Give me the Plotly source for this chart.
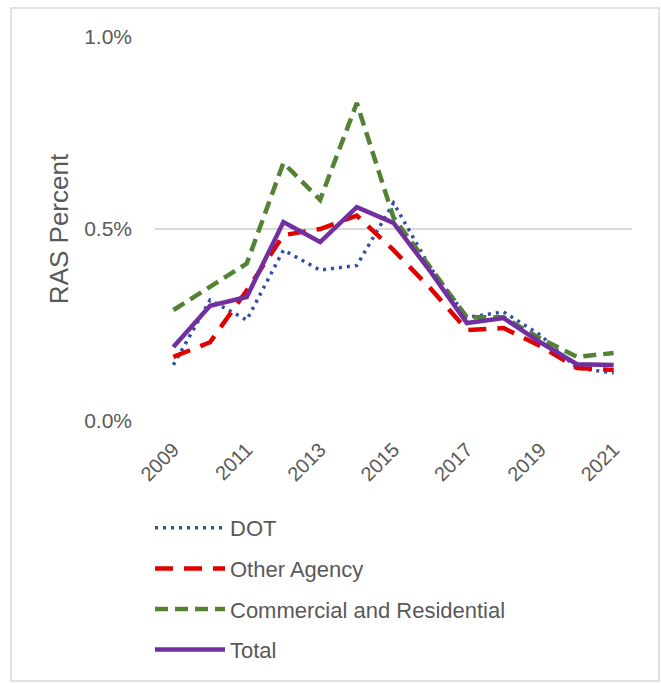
import plotly.graph_objects as go

# RAS percent by year for each sector
years = [2009, 2010, 2011, 2012, 2013, 2014, 2015, 2016, 2017, 2018, 2019, 2020, 2021]
dot = [0.146, 0.315, 0.263, 0.445, 0.393, 0.405, 0.568, 0.400, 0.270, 0.284, 0.224, 0.138, 0.125]
other_agency = [0.167, 0.205, 0.340, 0.484, 0.500, 0.535, 0.445, 0.346, 0.237, 0.242, 0.195, 0.138, 0.133]
commercial_residential = [0.289, 0.350, 0.410, 0.672, 0.576, 0.828, 0.530, 0.400, 0.270, 0.270, 0.215, 0.167, 0.177]
total = [0.193, 0.300, 0.323, 0.518, 0.466, 0.557, 0.516, 0.390, 0.255, 0.268, 0.205, 0.148, 0.146]

x_tick_years = [2009, 2011, 2013, 2015, 2017, 2019, 2021]
y_ticks = [0.0, 0.5, 1.0]

FONT = "Liberation Sans, Arial, sans-serif"
GREY_TEXT = "#595959"

W, H = 661, 683
L, R, T, B = 155, 29, 37, 262
plot_w = W - L - R
plot_h = H - T - B


def px_to_paper_x(px):
    return (px - L) / plot_w


def px_to_paper_y(py):
    return (H - B - py) / plot_h


fig = go.Figure()

fig.add_trace(go.Scatter(
    x=years, y=dot, name="DOT", mode="lines",
    line=dict(color="#2F4FA8", width=3.5, dash="3px,5px"),
    legendgroup="a",
))
fig.add_trace(go.Scatter(
    x=years, y=other_agency, name="Other Agency", mode="lines",
    line=dict(color="#E00000", width=4.5, dash="18px,11px"),
    legendgroup="b",
))
fig.add_trace(go.Scatter(
    x=years, y=commercial_residential, name="Commercial and Residential", mode="lines",
    line=dict(color="#548235", width=4.5, dash="13px,7px"),
    legendgroup="c",
))
fig.add_trace(go.Scatter(
    x=years, y=total, name="Total", mode="lines",
    line=dict(color="#7030A0", width=4.5),
    legendgroup="d",
))

fig.update_layout(
    width=W, height=H,
    margin=dict(l=L, r=R, t=T, b=B, autoexpand=False),
    paper_bgcolor="white",
    plot_bgcolor="white",
    font=dict(family=FONT, color=GREY_TEXT, size=20),
    showlegend=True,
    legend=dict(
        orientation="v",
        x=px_to_paper_x(150), xanchor="left",
        y=px_to_paper_y(507), yanchor="top",
        font=dict(family=FONT, size=22, color=GREY_TEXT),
        tracegroupgap=9,
        itemwidth=70,
        bgcolor="rgba(0,0,0,0)",
    ),
    xaxis=dict(
        range=[2008.5, 2021.5],
        tickmode="array",
        tickvals=x_tick_years,
        ticktext=[str(v) for v in x_tick_years],
        tickangle=-45,
        showgrid=False,
        zeroline=False,
        showline=False,
        ticks="",
        ticklabelstandoff=12,
        automargin=False,
        tickfont=dict(family=FONT, size=20, color=GREY_TEXT),
    ),
    yaxis=dict(
        range=[0, 1.0],
        tickmode="array",
        tickvals=y_ticks,
        ticktext=[f"{v:.1f}%" for v in y_ticks],
        showgrid=True,
        gridcolor="#D9D9D9",
        gridwidth=1.5,
        zeroline=False,
        showline=False,
        ticks="",
        ticklabelstandoff=22,
        automargin=False,
        tickfont=dict(family=FONT, size=21, color=GREY_TEXT),
        title=dict(text="RAS Percent", font=dict(family=FONT, size=26, color=GREY_TEXT), standoff=8),
    ),
)

# Outer chart frame
fig.add_shape(
    type="rect", xref="paper", yref="paper",
    x0=px_to_paper_x(11), x1=px_to_paper_x(659),
    y0=px_to_paper_y(681), y1=px_to_paper_y(8),
    line=dict(color="#D9D9D9", width=1.5),
    fillcolor="rgba(0,0,0,0)",
    layer="below",
)

fig.write_html("out.html")
